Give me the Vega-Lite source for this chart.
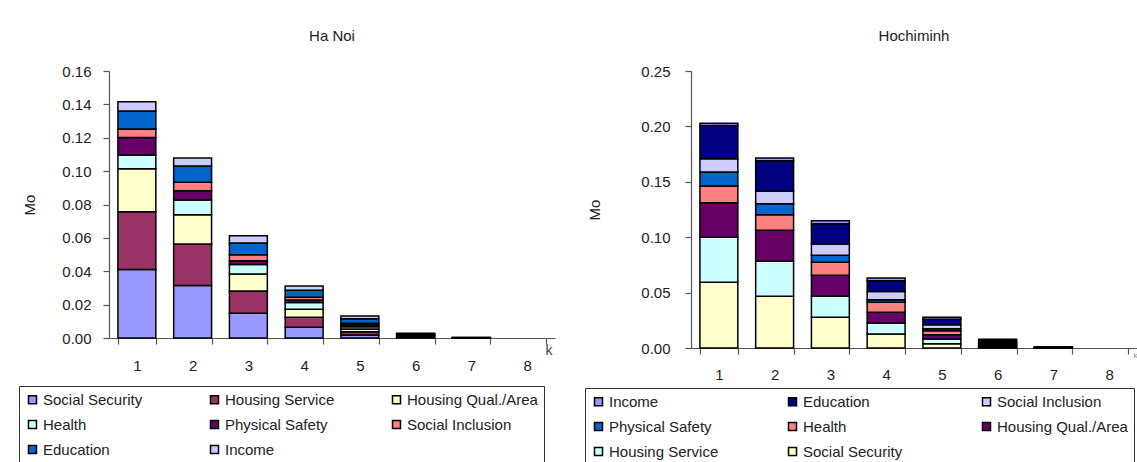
{
  "$schema": "https://vega.github.io/schema/vega-lite/v6.json",
  "padding": {"left": 18, "top": 29, "right": 0, "bottom": 0},
  "background": "white",
  "spacing": 29,
  "config": {
    "font": "Liberation Sans",
    "view": {"stroke": null},
    "axis": {"grid": false, "domainColor": "#555", "tickColor": "#555", "labelColor": "#222", "titleColor": "#222", "labelFont": "Liberation Sans", "titleFont": "Liberation Sans", "labelFontSize": 15, "titleFontSize": 15, "titleFontWeight": "normal", "tickSize": 6, "domainWidth": 1.2, "tickWidth": 1.2},
    "title": {"fontSize": 15, "fontWeight": "normal", "color": "#222", "font": "Liberation Sans", "anchor": "middle"},
    "legend": {"orient": "none", "direction": "horizontal", "columns": 3, "title": null, "symbolType": "square", "symbolSize": 64, "symbolStrokeColor": "black", "symbolStrokeWidth": 1.5, "symbolOpacity": 1, "labelFontSize": 15, "labelFont": "Liberation Sans", "labelColor": "#222", "labelOffset": 3, "rowPadding": 9, "strokeColor": "#333", "padding": 6, "gridAlign": "all", "labelLimit": 300}
  },
  "datasets": {
    "hanoi": [
      {"k":1,"d":"Social Security","o":1,"Mo":0.041},{"k":1,"d":"Housing Service","o":2,"Mo":0.0347},{"k":1,"d":"Housing Qual./Area","o":3,"Mo":0.0257},{"k":1,"d":"Health","o":4,"Mo":0.0082},{"k":1,"d":"Physical Safety","o":5,"Mo":0.0105},{"k":1,"d":"Social Inclusion","o":6,"Mo":0.0052},{"k":1,"d":"Education","o":7,"Mo":0.0108},{"k":1,"d":"Income","o":8,"Mo":0.0054},
      {"k":2,"d":"Social Security","o":1,"Mo":0.0314},{"k":2,"d":"Housing Service","o":2,"Mo":0.0249},{"k":2,"d":"Housing Qual./Area","o":3,"Mo":0.0176},{"k":2,"d":"Health","o":4,"Mo":0.0088},{"k":2,"d":"Physical Safety","o":5,"Mo":0.0056},{"k":2,"d":"Social Inclusion","o":6,"Mo":0.005},{"k":2,"d":"Education","o":7,"Mo":0.0098},{"k":2,"d":"Income","o":8,"Mo":0.0047},
      {"k":3,"d":"Social Security","o":1,"Mo":0.0148},{"k":3,"d":"Housing Service","o":2,"Mo":0.0134},{"k":3,"d":"Housing Qual./Area","o":3,"Mo":0.0101},{"k":3,"d":"Health","o":4,"Mo":0.0058},{"k":3,"d":"Physical Safety","o":5,"Mo":0.0022},{"k":3,"d":"Social Inclusion","o":6,"Mo":0.0036},{"k":3,"d":"Education","o":7,"Mo":0.007},{"k":3,"d":"Income","o":8,"Mo":0.0044},
      {"k":4,"d":"Social Security","o":1,"Mo":0.0064},{"k":4,"d":"Housing Service","o":2,"Mo":0.006},{"k":4,"d":"Housing Qual./Area","o":3,"Mo":0.0048},{"k":4,"d":"Health","o":4,"Mo":0.004},{"k":4,"d":"Physical Safety","o":5,"Mo":0.0016},{"k":4,"d":"Social Inclusion","o":6,"Mo":0.0016},{"k":4,"d":"Education","o":7,"Mo":0.0042},{"k":4,"d":"Income","o":8,"Mo":0.0026},
      {"k":5,"d":"Social Security","o":1,"Mo":0.0018},{"k":5,"d":"Housing Service","o":2,"Mo":0.002},{"k":5,"d":"Housing Qual./Area","o":3,"Mo":0.0016},{"k":5,"d":"Health","o":4,"Mo":0.0014},{"k":5,"d":"Physical Safety","o":5,"Mo":0.0012},{"k":5,"d":"Social Inclusion","o":6,"Mo":0.0008},{"k":5,"d":"Education","o":7,"Mo":0.0028},{"k":5,"d":"Income","o":8,"Mo":0.0016},
      {"k":6,"d":"Social Security","o":1,"Mo":0.0004},{"k":6,"d":"Housing Service","o":2,"Mo":0.0005},{"k":6,"d":"Housing Qual./Area","o":3,"Mo":0.0004},{"k":6,"d":"Health","o":4,"Mo":0.0003},{"k":6,"d":"Physical Safety","o":5,"Mo":0.0003},{"k":6,"d":"Social Inclusion","o":6,"Mo":0.0002},{"k":6,"d":"Education","o":7,"Mo":0.0004},{"k":6,"d":"Income","o":8,"Mo":0.0003},
      {"k":7,"d":"Social Security","o":1,"Mo":0.00005},{"k":7,"d":"Housing Service","o":2,"Mo":0.00005},{"k":7,"d":"Housing Qual./Area","o":3,"Mo":0.00004},{"k":7,"d":"Health","o":4,"Mo":0.00003},{"k":7,"d":"Physical Safety","o":5,"Mo":0.00003},{"k":7,"d":"Social Inclusion","o":6,"Mo":0.00002},{"k":7,"d":"Education","o":7,"Mo":0.00004},{"k":7,"d":"Income","o":8,"Mo":0.00004}
    ],
    "hcm": [
      {"k":1,"d":"Social Security","o":1,"Mo":0.0593},{"k":1,"d":"Housing Service","o":2,"Mo":0.0406},{"k":1,"d":"Housing Qual./Area","o":3,"Mo":0.0313},{"k":1,"d":"Health","o":4,"Mo":0.015},{"k":1,"d":"Physical Safety","o":5,"Mo":0.0126},{"k":1,"d":"Social Inclusion","o":6,"Mo":0.0121},{"k":1,"d":"Education","o":7,"Mo":0.0298},{"k":1,"d":"Income","o":8,"Mo":0.0021},
      {"k":2,"d":"Social Security","o":1,"Mo":0.0466},{"k":2,"d":"Housing Service","o":2,"Mo":0.0316},{"k":2,"d":"Housing Qual./Area","o":3,"Mo":0.028},{"k":2,"d":"Health","o":4,"Mo":0.0141},{"k":2,"d":"Physical Safety","o":5,"Mo":0.01},{"k":2,"d":"Social Inclusion","o":6,"Mo":0.0111},{"k":2,"d":"Education","o":7,"Mo":0.0277},{"k":2,"d":"Income","o":8,"Mo":0.0024},
      {"k":3,"d":"Social Security","o":1,"Mo":0.0277},{"k":3,"d":"Housing Service","o":2,"Mo":0.0189},{"k":3,"d":"Housing Qual./Area","o":3,"Mo":0.019},{"k":3,"d":"Health","o":4,"Mo":0.0117},{"k":3,"d":"Physical Safety","o":5,"Mo":0.0063},{"k":3,"d":"Social Inclusion","o":6,"Mo":0.0103},{"k":3,"d":"Education","o":7,"Mo":0.0183},{"k":3,"d":"Income","o":8,"Mo":0.0027},
      {"k":4,"d":"Social Security","o":1,"Mo":0.0126},{"k":4,"d":"Housing Service","o":2,"Mo":0.01},{"k":4,"d":"Housing Qual./Area","o":3,"Mo":0.0096},{"k":4,"d":"Health","o":4,"Mo":0.009},{"k":4,"d":"Physical Safety","o":5,"Mo":0.0024},{"k":4,"d":"Social Inclusion","o":6,"Mo":0.0075},{"k":4,"d":"Education","o":7,"Mo":0.0097},{"k":4,"d":"Income","o":8,"Mo":0.0024},
      {"k":5,"d":"Social Security","o":1,"Mo":0.0039},{"k":5,"d":"Housing Service","o":2,"Mo":0.0042},{"k":5,"d":"Housing Qual./Area","o":3,"Mo":0.0039},{"k":5,"d":"Health","o":4,"Mo":0.0036},{"k":5,"d":"Physical Safety","o":5,"Mo":0.0018},{"k":5,"d":"Social Inclusion","o":6,"Mo":0.0036},{"k":5,"d":"Education","o":7,"Mo":0.0049},{"k":5,"d":"Income","o":8,"Mo":0.0018},
      {"k":6,"d":"Social Security","o":1,"Mo":0.0005},{"k":6,"d":"Housing Service","o":2,"Mo":0.001},{"k":6,"d":"Housing Qual./Area","o":3,"Mo":0.001},{"k":6,"d":"Health","o":4,"Mo":0.001},{"k":6,"d":"Physical Safety","o":5,"Mo":0.0008},{"k":6,"d":"Social Inclusion","o":6,"Mo":0.001},{"k":6,"d":"Education","o":7,"Mo":0.0015},{"k":6,"d":"Income","o":8,"Mo":0.001},
      {"k":7,"d":"Social Security","o":1,"Mo":0.0001},{"k":7,"d":"Housing Service","o":2,"Mo":0.0001},{"k":7,"d":"Housing Qual./Area","o":3,"Mo":0.0001},{"k":7,"d":"Health","o":4,"Mo":0.0001},{"k":7,"d":"Physical Safety","o":5,"Mo":0.0001},{"k":7,"d":"Social Inclusion","o":6,"Mo":0.0001},{"k":7,"d":"Education","o":7,"Mo":0.0001},{"k":7,"d":"Income","o":8,"Mo":0.0001}
    ]
  },
  "resolve": {"scale": {"color": "independent", "y": "independent", "x": "independent"}, "legend": {"color": "independent"}},
  "hconcat": [
    {
      "title": {"text": "Ha Noi", "offset": 20},
      "width": 446,
      "height": 267,
      "data": {"name": "hanoi"},
      "mark": {"type": "bar", "stroke": "black", "strokeWidth": 1.5},
      "encoding": {
        "x": {"field": "k", "type": "ordinal", "scale": {"domain": [1,2,3,4,5,6,7,8], "paddingInner": 0.32, "paddingOuter": 0.16},
              "axis": {"labelAngle": 0, "tickBand": "extent", "labelPadding": 14, "title": "k", "titleX": 443, "titleY": 5, "titleAlign": "right", "titleBaseline": "top", "titleFontSize": 14, "titleColor": "#444"}},
        "y": {"field": "Mo", "type": "quantitative", "stack": "zero", "scale": {"domain": [0, 0.16], "nice": false},
              "axis": {"values": [0, 0.02, 0.04, 0.06, 0.08, 0.1, 0.12, 0.14, 0.16], "format": ".2f", "title": "Mo", "titlePadding": 24, "labelPadding": 12}},
        "order": {"field": "o", "type": "quantitative"},
        "color": {"field": "d", "type": "nominal",
                  "scale": {"domain": ["Social Security", "Housing Service", "Housing Qual./Area", "Health", "Physical Safety", "Social Inclusion", "Education", "Income"],
                            "range": ["#9999FF", "#993366", "#FFFFCC", "#CCFFFF", "#660066", "#FF8080", "#0066CC", "#CCCCFF"]},
                  "legend": {"legendX": -90, "legendY": 315, "columnPadding": 33}}
      }
    },
    {
      "title": {"text": "Hochiminh", "offset": 20},
      "width": 446,
      "height": 277,
      "data": {"name": "hcm"},
      "mark": {"type": "bar", "stroke": "black", "strokeWidth": 1.5},
      "encoding": {
        "x": {"field": "k", "type": "ordinal", "scale": {"domain": [1,2,3,4,5,6,7,8], "paddingInner": 0.32, "paddingOuter": 0.16},
              "axis": {"labelAngle": 0, "tickBand": "extent", "labelPadding": 13, "title": "k", "titleX": 446, "titleY": 3, "titleAlign": "right", "titleBaseline": "top", "titleFontSize": 8, "titleColor": "#888"}},
        "y": {"field": "Mo", "type": "quantitative", "stack": "zero", "scale": {"domain": [0, 0.25], "nice": false},
              "axis": {"values": [0, 0.05, 0.1, 0.15, 0.2, 0.25], "format": ".2f", "title": "Mo", "titlePadding": 38, "labelPadding": 15}},
        "order": {"field": "o", "type": "quantitative"},
        "color": {"field": "d", "type": "nominal",
                  "scale": {"domain": ["Income", "Education", "Social Inclusion", "Physical Safety", "Health", "Housing Qual./Area", "Housing Service", "Social Security"],
                            "range": ["#9999FF", "#000080", "#CCCCFF", "#0066CC", "#FF8080", "#660066", "#CCFFFF", "#FFFFCC"]},
                  "legend": {"legendX": -106, "legendY": 317, "columnPadding": 45}}
      }
    }
  ]
}
